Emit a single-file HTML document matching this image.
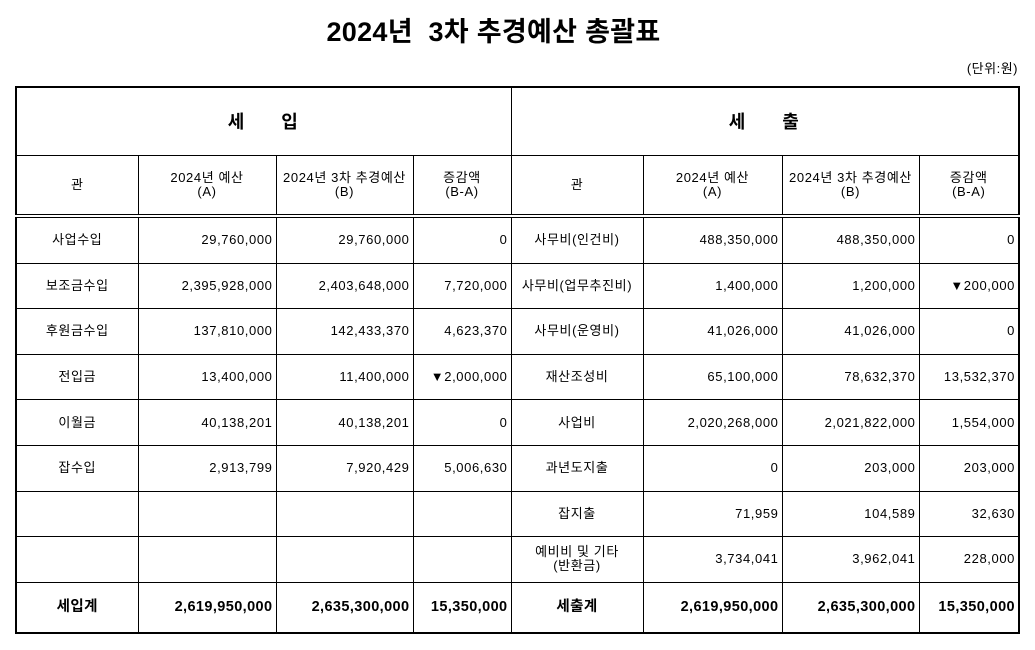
<!DOCTYPE html>
<html><head><meta charset="utf-8">
<style>
body{margin:0;width:1035px;height:650px;background:#fff;font-family:"Liberation Sans","Noto Sans CJK KR","NanumGothic",sans-serif;color:#000;position:relative;overflow:hidden}
.title{position:absolute;top:10px;left:0;width:987px;text-align:center;font-size:27px;font-weight:bold;letter-spacing:0.3px;white-space:pre}
.unit{position:absolute;top:58px;right:17px;font-size:13px;letter-spacing:0.5px}
table{position:absolute;left:15px;top:86px;border-collapse:collapse;table-layout:fixed;border:2px solid #000}
td{border:1px solid #000;font-size:13px;padding:0 3px;text-align:center;white-space:nowrap;overflow:hidden;line-height:14px;letter-spacing:0.6px}
td.n{text-align:right;padding-right:3px}
tr.h1 td{height:67px;font-size:18px;font-weight:bold;letter-spacing:2px}
tr.h2 td{height:58px;border-bottom:4px double #000}
tr.r td{height:44.6px}
tr.t td{height:49px;font-size:14.5px;font-weight:bold;letter-spacing:0.4px}
</style></head><body>
<div class="title">2024년  3차 추경예산 총괄표</div>
<div class="unit">(단위:원)</div>
<table>
<colgroup><col style="width:122px"><col style="width:138px"><col style="width:137px"><col style="width:98px"><col style="width:132px"><col style="width:139px"><col style="width:137px"><col style="width:100px"></colgroup>
<tr class="h1"><td colspan="4">세 &nbsp; &nbsp; 입</td><td colspan="4">세 &nbsp; &nbsp; 출</td></tr>
<tr class="h2"><td>관</td><td>2024년 예산<br>(A)</td><td>2024년 3차 추경예산<br>(B)</td><td>증감액<br>(B-A)</td><td>관</td><td>2024년 예산<br>(A)</td><td>2024년 3차 추경예산<br>(B)</td><td>증감액<br>(B-A)</td></tr>
<tr class="r"><td>사업수입</td><td class="n">29,760,000</td><td class="n">29,760,000</td><td class="n">0</td><td>사무비(인건비)</td><td class="n">488,350,000</td><td class="n">488,350,000</td><td class="n">0</td></tr>
<tr class="r"><td>보조금수입</td><td class="n">2,395,928,000</td><td class="n">2,403,648,000</td><td class="n">7,720,000</td><td>사무비(업무추진비)</td><td class="n">1,400,000</td><td class="n">1,200,000</td><td class="n">▼200,000</td></tr>
<tr class="r"><td>후원금수입</td><td class="n">137,810,000</td><td class="n">142,433,370</td><td class="n">4,623,370</td><td>사무비(운영비)</td><td class="n">41,026,000</td><td class="n">41,026,000</td><td class="n">0</td></tr>
<tr class="r"><td>전입금</td><td class="n">13,400,000</td><td class="n">11,400,000</td><td class="n">▼2,000,000</td><td>재산조성비</td><td class="n">65,100,000</td><td class="n">78,632,370</td><td class="n">13,532,370</td></tr>
<tr class="r"><td>이월금</td><td class="n">40,138,201</td><td class="n">40,138,201</td><td class="n">0</td><td>사업비</td><td class="n">2,020,268,000</td><td class="n">2,021,822,000</td><td class="n">1,554,000</td></tr>
<tr class="r"><td>잡수입</td><td class="n">2,913,799</td><td class="n">7,920,429</td><td class="n">5,006,630</td><td>과년도지출</td><td class="n">0</td><td class="n">203,000</td><td class="n">203,000</td></tr>
<tr class="r"><td></td><td></td><td></td><td></td><td>잡지출</td><td class="n">71,959</td><td class="n">104,589</td><td class="n">32,630</td></tr>
<tr class="r"><td></td><td></td><td></td><td></td><td>예비비 및 기타<br>(반환금)</td><td class="n">3,734,041</td><td class="n">3,962,041</td><td class="n">228,000</td></tr>
<tr class="t"><td>세입계</td><td class="n">2,619,950,000</td><td class="n">2,635,300,000</td><td class="n">15,350,000</td><td>세출계</td><td class="n">2,619,950,000</td><td class="n">2,635,300,000</td><td class="n">15,350,000</td></tr>
</table>
</body></html>
